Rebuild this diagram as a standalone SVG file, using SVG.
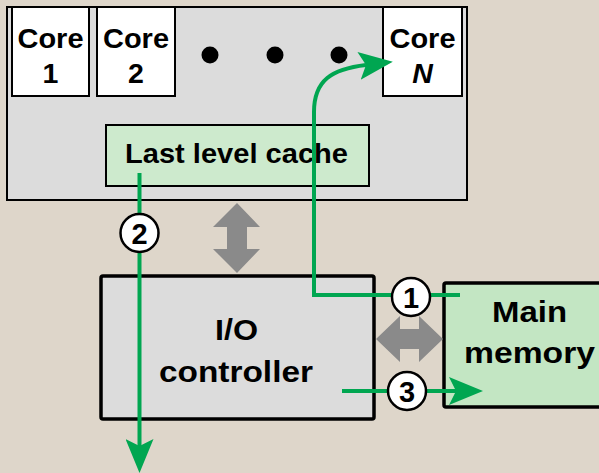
<svg xmlns="http://www.w3.org/2000/svg" width="599" height="473" viewBox="0 0 599 473">
<defs>
<style>
text{font-family:"Liberation Sans",Arial,Helvetica,sans-serif;font-weight:bold;fill:#000;text-anchor:middle}
.core{fill:#fff;stroke:#000;stroke-width:2}
.flow{fill:none;stroke:#00a651;stroke-width:4}
.num{fill:#fff;stroke:#000;stroke-width:2.5}
.gray{fill:#8a8a8a}
</style>
<marker id="ah" viewBox="0 0 34 28" refX="7" refY="14" markerWidth="34" markerHeight="28" markerUnits="userSpaceOnUse" orient="auto">
<path d="M0,0 L34,14 L0,28 L7,14 z" fill="#00a651"/>
</marker>
</defs>
<rect x="0" y="0" width="599" height="473" fill="#ded6ca"/>

<g id="chip">
<rect x="7" y="7" width="460" height="193" fill="#dcdcdc" stroke="#000" stroke-width="2"/>
</g>
<g id="core1">
<rect class="core" x="12" y="7" width="77" height="89"/>
<text x="50.5" y="48" font-size="28.5" textLength="66" lengthAdjust="spacingAndGlyphs">Core</text>
<text x="50.5" y="83" font-size="28.5">1</text>
</g>
<g id="core2">
<rect class="core" x="97" y="7" width="78" height="89"/>
<text x="136" y="48" font-size="28.5" textLength="66" lengthAdjust="spacingAndGlyphs">Core</text>
<text x="136" y="83" font-size="28.5">2</text>
</g>
<g id="dots">
<circle cx="210" cy="55" r="8.5"/>
<circle cx="275" cy="55" r="8.5"/>
<circle cx="339" cy="55" r="8.5"/>
</g>
<g id="coreN">
<rect class="core" x="383" y="7" width="79" height="89"/>
<text x="422.5" y="48" font-size="28.5" textLength="66" lengthAdjust="spacingAndGlyphs">Core</text>
<text x="422.5" y="83" font-size="28.5" font-style="italic">N</text>
</g>
<g id="llc">
<rect x="106" y="125" width="263" height="61" fill="#cdeacd" stroke="#000" stroke-width="2"/>
<text x="236.5" y="163" font-size="27" textLength="223" lengthAdjust="spacingAndGlyphs">Last level cache</text>
</g>
<g id="io">
<rect x="101" y="276" width="273" height="143" rx="2" fill="#dcdcdc" stroke="#000" stroke-width="3.5"/>
<text x="236.5" y="340" font-size="29" textLength="43" lengthAdjust="spacingAndGlyphs">I/O</text>
<text x="236" y="382" font-size="29.5" textLength="154" lengthAdjust="spacingAndGlyphs">controller</text>
</g>
<g id="mem">
<rect x="444" y="283" width="170" height="124" rx="2" fill="#c3e6c3" stroke="#000" stroke-width="3.5"/>
<text x="529.5" y="322" font-size="30" textLength="75" lengthAdjust="spacingAndGlyphs">Main</text>
<text x="529.5" y="363" font-size="30" textLength="131" lengthAdjust="spacingAndGlyphs">memory</text>
</g>

<g id="connectors">
<polygon class="gray" points="237,203 260,227 247,227 247,249 260,249 237,273 213,249 227,249 227,227 213,227"/>
<polygon class="gray" points="376,339 400,316 400,329 419,329 419,316 443,339 419,362 419,349 400,349 400,362"/>
<path class="flow" d="M460,295 H314 V112 C314,80 332,69 366,65" marker-end="url(#ah)"/>
<path class="flow" d="M139.5,173 V446" marker-end="url(#ah)"/>
<path class="flow" d="M342,391 H456" marker-end="url(#ah)"/>
<g id="n1"><circle class="num" cx="411" cy="297" r="19"/><text x="411" y="307.5" font-size="29">1</text></g>
<g id="n2"><circle class="num" cx="139.5" cy="233" r="19"/><text x="139.5" y="243.5" font-size="29">2</text></g>
<g id="n3"><circle class="num" cx="407" cy="391" r="19"/><text x="407" y="401.5" font-size="29">3</text></g>
</g>
</svg>
